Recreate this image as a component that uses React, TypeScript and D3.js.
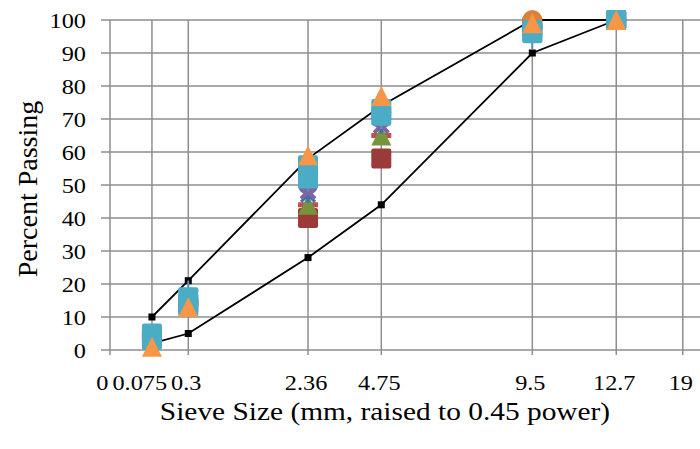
import React from "react";
import * as d3 from "d3";

// sieve sizes (mm) where each gradation was measured
const sieves = [0.075, 0.3, 2.36, 4.75, 12.7, 19];

// vertical gridlines and the text printed under them
const gridSieves = [0, 0.075, 0.3, 2.36, 4.75, 12.7, 19, 25];
const gridLabels = ["0", "0.075", "0.3", "2.36", "4.75", "9.5", "12.7", "19"];
const yTicks = [0, 10, 20, 30, 40, 50, 60, 70, 80, 90, 100];

// control points (lower / upper)
const lowerLimit = [2, 5, 28, 44, 90, 100];
const upperLimit = [10, 21, 58, 74, 100, 100];

// mix gradations, percent passing
const mixSquareRed = [4, 14, 40, 58, 98, 100];
const mixTriangleGreen = [4, 14, 44, 65, 98, 100];
const mixDashRed = [4, 14, 44, 65, 98, 100];
const mixStarBlue = [4, 15, 47, 68, 98, 100];
const mixXPurple = [4, 15, 48, 68, 98, 100];
const mixCirclePurple = [4, 15, 50, 70, 98, 100];
const mixPlusBlue = [4, 18, 51, 70, 94, 100];
const mixCircleOrange = [3, 14, 54, 72, 100, 100];
const mixSquareTealB = [3, 13, 52, 71, 96, 100];
const mixSquareTeal = [5, 16, 56, 73, 97, 100];
const mixTriangleOrange = [1, 13, 59, 77, 99, 100];

const series = [
  { values: mixSquareRed, shape: "square", color: "#9a3b39" },
  { values: mixDashRed, shape: "dash", color: "#c0504d" },
  { values: mixTriangleGreen, shape: "triangle", color: "#77933c" },
  { values: mixStarBlue, shape: "star", color: "#3f6fae" },
  { values: mixXPurple, shape: "x", color: "#8064a2" },
  { values: mixCirclePurple, shape: "circle", color: "#8064a2" },
  { values: mixPlusBlue, shape: "plus", color: "#5f8cc4" },
  { values: mixCircleOrange, shape: "circle", color: "#d9823a" },
  { values: mixSquareTealB, shape: "square", color: "#4bacc6" },
  { values: mixSquareTeal, shape: "square", color: "#4bacc6" },
  { values: mixTriangleOrange, shape: "triangle", color: "#f79646" },
];

const W = 700;
const H = 449;
const plot = { left: 110, right: 700, top: 20, bottom: 350 };
const gridColor = "#8e8e8e";
const fontFamily = '"Liberation Serif", "Times New Roman", serif';
const textStyle = { fontFamily };
const tickSize = 21.5;
const stretch = 1.13; // text in the original is a little wide

const x = d3
  .scalePow()
  .exponent(0.45)
  .domain([0, 26.7])
  .range([plot.left, plot.right]);
const y = d3.scaleLinear().domain([0, 100]).range([plot.bottom, plot.top]);

// x label centres, nudged left where neighbours would collide (like Excel does)
const labelCentres = () => {
  const ctx = document.createElement("canvas").getContext("2d");
  ctx.font = `${tickSize}px ${fontFamily}`;
  const widths = gridLabels.map((l) => ctx.measureText(l).width * stretch);
  const cs = gridSieves.map((s) => x(s) - 2);
  for (let i = cs.length - 2; i >= 0; i--) {
    const maxRight = cs[i + 1] - widths[i + 1] / 2 - 4;
    if (cs[i] + widths[i] / 2 > maxRight) cs[i] = maxRight - widths[i] / 2;
  }
  return cs;
};

const Marker = ({ cx, cy, shape, color }) => {
  const r = 10;
  if (shape === "square")
    return (
      <rect x={cx - r} y={cy - r} width={2 * r} height={2 * r} rx={2} fill={color} />
    );
  if (shape === "triangle")
    return (
      <path d={`M${cx},${cy - r}L${cx + r},${cy + r}L${cx - r},${cy + r}Z`} fill={color} />
    );
  if (shape === "circle") return <circle cx={cx} cy={cy} r={r} fill={color} />;
  if (shape === "dash")
    return <rect x={cx - r} y={cy - 2.5} width={2 * r} height={5} fill={color} />;
  if (shape === "plus")
    return (
      <path
        d={`M${cx - r},${cy}H${cx + r}M${cx},${cy - r}V${cy + r}`}
        stroke={color}
        strokeWidth={2}
      />
    );
  if (shape === "x")
    return (
      <path
        d={`M${cx - 7},${cy - 7}L${cx + 7},${cy + 7}M${cx - 7},${cy + 7}L${cx + 7},${cy - 7}`}
        stroke={color}
        strokeWidth={4}
      />
    );
  // star = x plus a vertical bar
  return (
    <path
      d={`M${cx - 7},${cy - 7}L${cx + 7},${cy + 7}M${cx - 7},${cy + 7}L${cx + 7},${cy - 7}M${cx},${cy - 8}V${cy + 8}`}
      stroke={color}
      strokeWidth={3}
    />
  );
};

const LimitLine = ({ values }) => {
  const line = d3
    .line<number>()
    .x((d, i) => x(sieves[i]))
    .y((d) => y(d));
  return (
    <g>
      <path d={line(values)} fill="none" stroke="#000" strokeWidth={1.8} />
      {values.map((v, i) => (
        <rect key={i} x={x(sieves[i]) - 3.5} y={y(v) - 3.5} width={7} height={7} fill="#000" />
      ))}
    </g>
  );
};

const App = () => {
  const centres = labelCentres();
  return (
    <svg
      width={W}
      height={H}
      style={{ position: "absolute", left: 0, top: 0, background: "#fff" }}
    >
      {/* horizontal gridlines + y labels */}
      {yTicks.map((t) => (
        <g key={t}>
          <line x1={plot.left - 9} x2={plot.right} y1={y(t)} y2={y(t)} stroke={gridColor} strokeWidth={1.5} />
          <text
            transform={`translate(86 ${y(t) + 7.5}) scale(${stretch} 1)`}
            textAnchor="end"
            style={textStyle}
            fontSize={tickSize}
          >
            {t}
          </text>
        </g>
      ))}
      {/* vertical gridlines + x labels */}
      {gridSieves.map((s, i) => (
        <g key={i}>
          <line x1={x(s)} x2={x(s)} y1={plot.top} y2={plot.bottom + 5} stroke={gridColor} strokeWidth={1.5} />
          <text
            transform={`translate(${centres[i]} 390) scale(${stretch} 1)`}
            textAnchor="middle"
            style={textStyle}
            fontSize={tickSize}
          >
            {gridLabels[i]}
          </text>
        </g>
      ))}

      <LimitLine values={lowerLimit} />
      <LimitLine values={upperLimit} />

      {series.map((s, si) => (
        <g key={si}>
          {s.values.map((v, i) => (
            <Marker key={i} cx={x(sieves[i])} cy={y(v)} shape={s.shape} color={s.color} />
          ))}
        </g>
      ))}

      <text
        transform={`translate(385 420) scale(${stretch} 1)`}
        textAnchor="middle"
        style={textStyle}
        fontSize={26}
      >
        Sieve Size (mm, raised to 0.45 power)
      </text>
      <text
        transform={`translate(37 189) rotate(-90)`}
        textAnchor="middle"
        style={textStyle}
        fontSize={28}
      >
        Percent Passing
      </text>
    </svg>
  );
};

export default App;
